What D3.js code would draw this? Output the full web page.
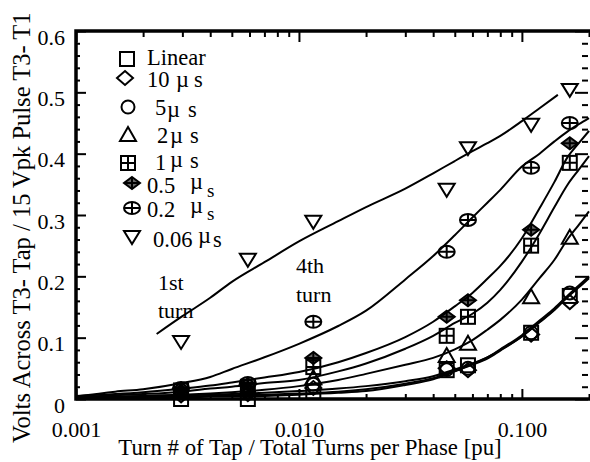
<!DOCTYPE html>
<html>
<head>
<meta charset="utf-8">
<script src="https://cdn.jsdelivr.net/npm/d3@7"></script>
<style>
    body { margin: 0; background: #fff; }
    svg { display: block; }
</style>
</head>
<body>
<div id="chart"></div>
<script>
// tap positions [pu] where the measurements were taken (1st, 2nd, 4th turn ...)
const tapPositions = [0.00296, 0.0059, 0.0116, 0.046, 0.0573, 0.11, 0.164];

const seriesNames = ["Linear", "10 µs", "5 µs", "2 µs", "1 µs", "0.5 µs", "0.2 µs", "0.06µs"];

// measured points, same order as tapPositions
const linearPts = [0.0, 0.0, 0.012, 0.047, 0.055, 0.108, 0.168];
const us10Pts = [0.006, 0.008, 0.018, 0.050, 0.047, 0.105, 0.158];
const us5Pts = [0.010, 0.012, 0.024, 0.048, 0.050, 0.108, 0.173];
const us2Pts = [0.012, 0.016, 0.034, 0.070, 0.090, 0.166, 0.263];
const us1Pts = [0.014, 0.020, 0.052, 0.103, 0.134, 0.250, 0.385];
const us05Pts = [0.017, 0.024, 0.067, 0.134, 0.161, 0.276, 0.417];
const us02Pts = [0.018, 0.026, 0.126, 0.240, 0.292, 0.377, 0.450];
const us006Pts = [0.093, 0.227, 0.289, 0.341, 0.409, 0.447, 0.504];

// fitted curves
const curveX = [0.001, 0.0015, 0.002, 0.003, 0.004, 0.005, 0.007, 0.01, 0.015, 0.02, 0.03,
    0.04, 0.05, 0.06, 0.07, 0.08, 0.1, 0.12, 0.14, 0.16, 0.18, 0.2];
const linearFit = [0.002, 0.002, 0.002, 0.002, 0.004, 0.004, 0.005, 0.007, 0.010, 0.013, 0.023,
    0.032, 0.045, 0.056, 0.066, 0.079, 0.102, 0.126, 0.146, 0.167, 0.184, 0.199];
const us10Fit = [0.002, 0.003, 0.003, 0.004, 0.005, 0.006, 0.007, 0.009, 0.012, 0.016, 0.025,
    0.034, 0.046, 0.057, 0.068, 0.081, 0.104, 0.128, 0.148, 0.168, 0.185, 0.200];
const us5Fit = [0.003, 0.004, 0.005, 0.006, 0.007, 0.008, 0.010, 0.013, 0.017, 0.021, 0.029,
    0.037, 0.048, 0.058, 0.068, 0.080, 0.102, 0.125, 0.145, 0.166, 0.182, 0.197];
const us2Fit = [0.002, 0.003, 0.005, 0.007, 0.009, 0.011, 0.015, 0.021, 0.031, 0.041, 0.056,
    0.067, 0.081, 0.096, 0.113, 0.129, 0.162, 0.197, 0.227, 0.260, 0.284, 0.306];
const us1Fit = [0.003, 0.006, 0.008, 0.012, 0.017, 0.020, 0.026, 0.031, 0.045, 0.058, 0.082,
    0.103, 0.124, 0.139, 0.157, 0.178, 0.224, 0.270, 0.313, 0.349, 0.374, 0.396];
const us05Fit = [0.005, 0.008, 0.011, 0.017, 0.022, 0.027, 0.035, 0.044, 0.060, 0.075, 0.101,
    0.126, 0.151, 0.173, 0.196, 0.217, 0.262, 0.311, 0.354, 0.394, 0.417, 0.437];
const us02Fit = [0.004, 0.012, 0.016, 0.026, 0.036, 0.049, 0.068, 0.090, 0.119, 0.144, 0.195,
    0.233, 0.267, 0.296, 0.320, 0.341, 0.379, 0.400, 0.420, 0.436, 0.448, 0.458];
const us006FitX = [0.0023, 0.003, 0.004, 0.005, 0.007, 0.01, 0.015, 0.02, 0.03, 0.04, 0.05,
    0.06, 0.07, 0.08, 0.1, 0.12, 0.145];
const us006Fit = [0.106, 0.135, 0.165, 0.191, 0.223, 0.257, 0.290, 0.313, 0.343, 0.368, 0.388,
    0.404, 0.417, 0.429, 0.453, 0.474, 0.496];

const xMajorTicks = [0.001, 0.01, 0.1];
const yMajorTicks = [0, 0.1, 0.2, 0.3, 0.4, 0.5, 0.6];


const width = 590
const height = 462
const serif = "'Liberation Serif', 'Times New Roman', Times, serif"
const x = d3.scaleLog().domain([0.001, 0.2]).range([76, 589])
const y = d3.scaleLinear().domain([0, 0.6]).range([399, 31])

const svg = d3.select("#chart")
    .append("svg")
    .attr("width", width)
    .attr("height", height)
    .attr("font-family", serif)

const points = [linearPts, us10Pts, us5Pts, us2Pts, us1Pts, us05Pts, us02Pts, us006Pts]
const fits = [linearFit, us10Fit, us5Fit, us2Fit, us1Fit, us05Fit, us02Fit, us006Fit]
const kinds = ["square", "diamond", "circle", "triUp", "squareCross", "diamondCross", "circleCross", "triDown"]

// minor ticks
const yMinor = d3.range(0, 0.601, 0.02).filter(v => Math.abs(v * 10 - Math.round(v * 10)) > 1e-6)
const xMinor = x.ticks().filter(v => !xMajorTicks.some(m => Math.abs(m - v) < 1e-9))

// drop the axis domain and the sans-serif default of d3.axis
const tidy = g => {
    g.select(".domain").remove()
    g.attr("font-family", serif).attr("font-size", 22)
}

// left
svg.append("g")
    .attr("transform", `translate(${x.range()[0]},0)`)
    .call(d3.axisLeft(y).tickValues(yMajorTicks).tickSize(-10).tickPadding(11)
        .tickFormat(d => d === 0 ? "0" : d3.format(".1f")(d)))
    .call(tidy)
    .call(g => g.selectAll("text").attr("dy", "0.6em"))
svg.append("g")
    .attr("transform", `translate(${x.range()[0]},0)`)
    .call(d3.axisLeft(y).tickValues(yMinor).tickSize(-4).tickFormat(""))
    .call(tidy)

// right (the frame line itself sits just past the picture edge)
svg.append("g")
    .attr("transform", `translate(${x.range()[1] - 1},0)`)
    .call(d3.axisRight(y).tickValues(yMajorTicks).tickSize(-13).tickFormat(""))
    .call(tidy)
svg.append("g")
    .attr("transform", `translate(${x.range()[1] - 1},0)`)
    .call(d3.axisRight(y).tickValues(yMinor).tickSize(-6).tickFormat(""))
    .call(tidy)

// bottom
svg.append("g")
    .attr("transform", `translate(0,${y(0)})`)
    .call(d3.axisBottom(x).tickValues(xMajorTicks).tickSize(-10).tickPadding(22)
        .tickFormat(d3.format(".3f")))
    .call(tidy)
svg.append("g")
    .attr("transform", `translate(0,${y(0)})`)
    .call(d3.axisBottom(x).tickValues(xMinor).tickSize(-5).tickFormat(""))
    .call(tidy)

// top
svg.append("g")
    .attr("transform", `translate(0,${y(0.6)})`)
    .call(d3.axisTop(x).tickValues(xMajorTicks).tickSize(-11).tickFormat(""))
    .call(tidy)
svg.append("g")
    .attr("transform", `translate(0,${y(0.6)})`)
    .call(d3.axisTop(x).tickValues(xMinor).tickSize(-6).tickFormat(""))
    .call(tidy)

svg.selectAll(".tick line").attr("stroke", "#000").attr("stroke-width", 2)
svg.selectAll(".tick text").attr("fill", "#000")

// frame
svg.append("rect")
    .attr("x", x.range()[0])
    .attr("y", y(0.6))
    .attr("width", x.range()[1] - x.range()[0] + 3)
    .attr("height", y(0) - y(0.6))
    .attr("fill", "none")
    .attr("stroke", "#000")
    .attr("stroke-width", 3.5)

// fitted lines
const line = d3.line()
    .x(d => x(d[0]))
    .y(d => y(d[1]))
    .curve(d3.curveMonotoneX)

fits.forEach((fit, i) => {
    const xs = i === 7 ? us006FitX : curveX
    svg.append("path")
        .datum(xs.map((v, j) => [v, fit[j]]))
        .attr("fill", "none")
        .attr("stroke", "#000")
        .attr("stroke-width", 2)
        .attr("d", line)
})

// markers
function drawMarker(g, kind) {
    const stroke = el => el.attr("fill", "none").attr("stroke", "#000").attr("stroke-width", 2)
    switch (kind) {
        case "square":
            stroke(g.append("rect").attr("x", -7).attr("y", -7).attr("width", 14).attr("height", 14))
            break
        case "diamond":
            stroke(g.append("path").attr("d", "M0,-7L8,0L0,7L-8,0Z"))
            break
        case "circle":
            stroke(g.append("circle").attr("r", 6.5))
            break
        case "triUp":
            stroke(g.append("path").attr("d", "M0,-8L8,6L-8,6Z"))
            break
        case "squareCross":
            stroke(g.append("rect").attr("x", -7).attr("y", -7).attr("width", 14).attr("height", 14))
            stroke(g.append("path").attr("d", "M-7,0H7M0,-7V7"))
            break
        case "diamondCross":
            g.append("path").attr("d", "M0,-6L8,0L0,6L-8,0Z").attr("fill", "#000").attr("opacity", 0.6)
            stroke(g.append("path").attr("d", "M0,-6L8,0L0,6L-8,0Z"))
            stroke(g.append("path").attr("d", "M-8,0H8M0,-6V6"))
            break
        case "circleCross":
            stroke(g.append("ellipse").attr("rx", 8).attr("ry", 6))
            stroke(g.append("path").attr("d", "M-8,0H8M0,-6V6"))
            break
        case "triDown":
            stroke(g.append("path").attr("d", "M-8,-6L8,-6L0,7Z"))
            break
    }
}

points.forEach((vals, i) => {
    vals.forEach((v, j) => {
        const g = svg.append("g")
            .attr("transform", `translate(${x(tapPositions[j])},${y(v)})`)
        drawMarker(g, kinds[i])
    })
})

// legend: marker spot, label spot and the odd µ placement of the original
const legendLayout = [
    { mx: 127, my: 59, tx: 147, ty: 65 },
    { mx: 125, my: 78, tx: 147, ty: 87, mu: [176, 0], s: [194, 0] },
    { mx: 128, my: 107, tx: 155, ty: 115, mu: [167, 2], s: [188, 2] },
    { mx: 128, my: 135, tx: 157, ty: 143, mu: [170, 0], s: [190, 0] },
    { mx: 128, my: 163, tx: 155, ty: 170, mu: [170, -3], s: [190, -2] },
    { mx: 132, my: 183, tx: 147, ty: 193, mu: [190, -4], s: [207, 4], small: true },
    { mx: 132, my: 208, tx: 147, ty: 217, mu: [190, -4], s: [207, 3], small: true },
    { mx: 132, my: 237, tx: 153, ty: 247, mu: [198, -4], s: [213, 0] }
]

const legend = svg.append("g").attr("class", "legend")
seriesNames.forEach((name, i) => {
    const L = legendLayout[i]
    drawMarker(legend.append("g").attr("transform", `translate(${L.mx},${L.my})`), kinds[i])
    const t = legend.append("text")
        .attr("x", L.tx)
        .attr("y", L.ty)
        .attr("font-size", 22.5)
    if (!L.mu) {
        t.text(name)
        return
    }
    const base = name.split("µ")[0].trim()
    t.append("tspan").text(base)
    t.append("tspan").attr("x", L.mu[0]).attr("y", L.ty + L.mu[1]).text("µ")
    t.append("tspan").attr("x", L.s[0]).attr("y", L.ty + L.s[1])
        .attr("font-size", L.small ? 19 : 22.5)
        .text("s")
})

// annotations
const notes = svg.append("g").attr("font-size", 22)
notes.append("text").attr("x", 158).attr("y", 290).text("1st")
notes.append("text").attr("x", 158).attr("y", 318).text("turn")
notes.append("text").attr("x", 296).attr("y", 273).text("4th")
notes.append("text").attr("x", 296).attr("y", 302).text("turn")

// axis titles
svg.append("text")
    .attr("x", 310)
    .attr("y", 455)
    .attr("text-anchor", "middle")
    .attr("font-size", 22.8)
    .text("Turn # of Tap / Total Turns per Phase [pu]")

svg.append("text")
    .attr("transform", "translate(30,443) rotate(-90)")
    .attr("text-anchor", "start")
    .attr("font-size", 24.5)
    .text("Volts Across T3- Tap / 15 Vpk Pulse T3- T1")
</script>
</body>
</html>
